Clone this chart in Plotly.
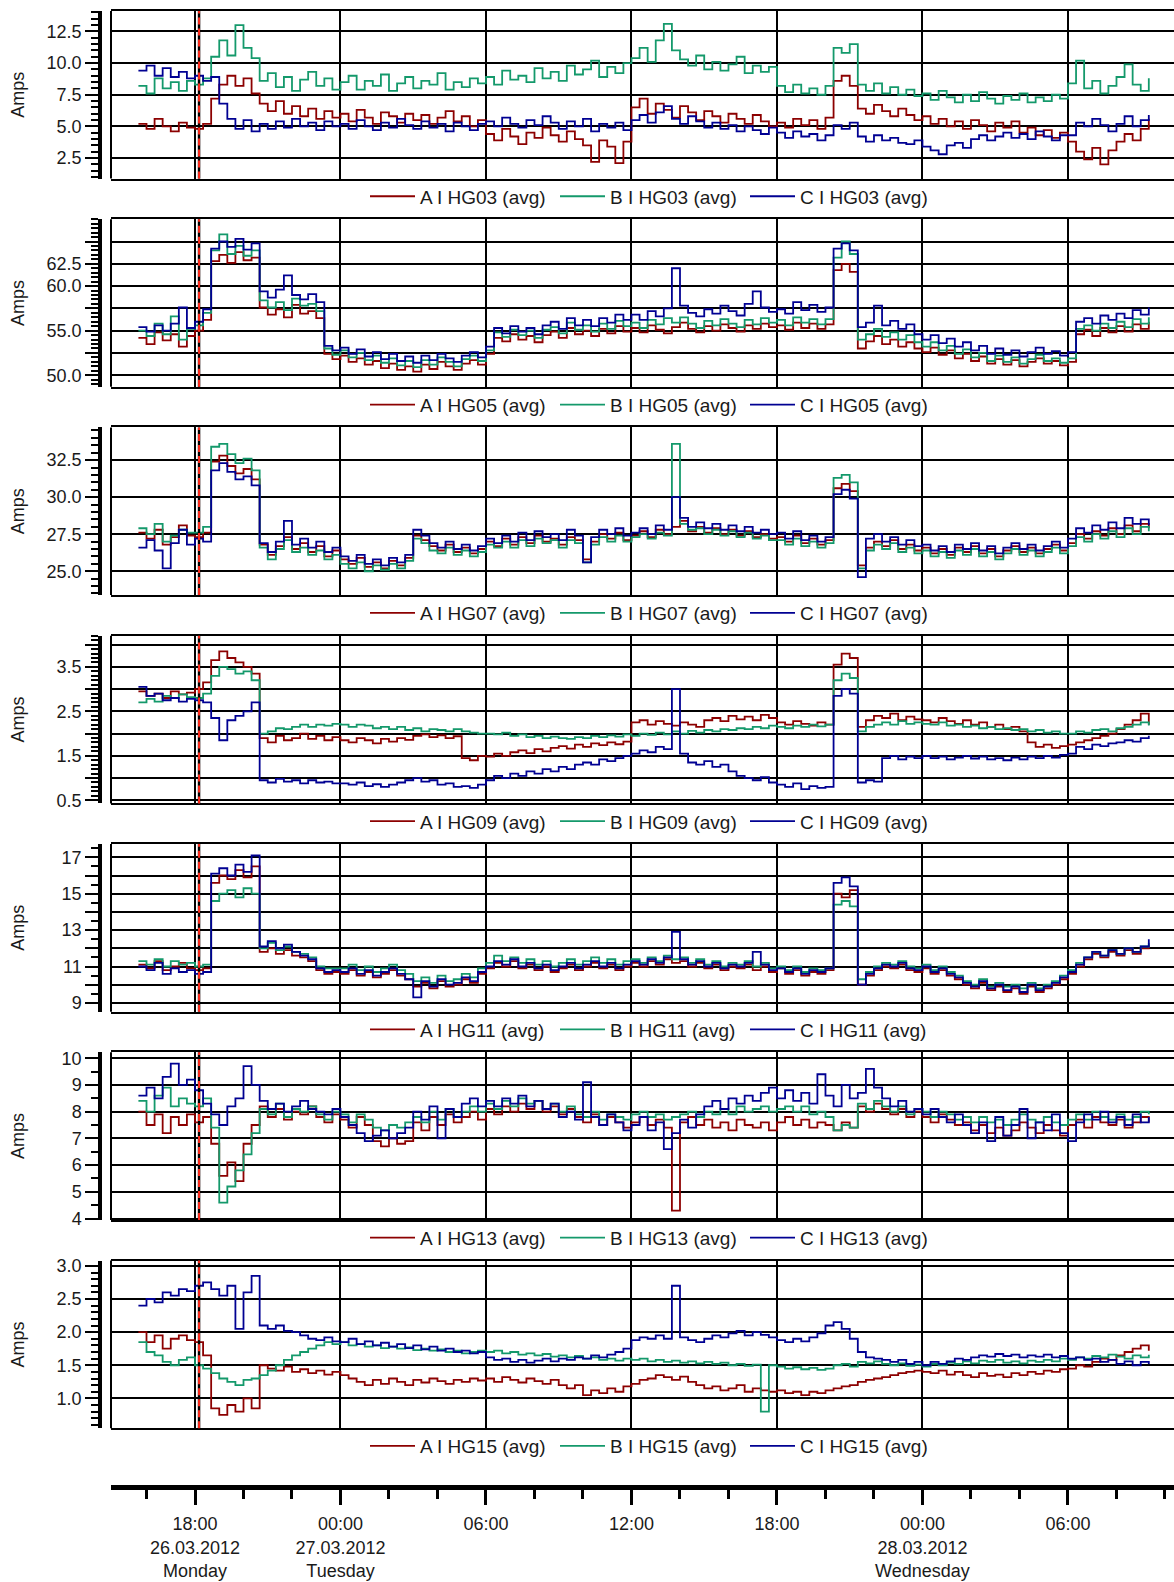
import pandas as pd
import plotly.graph_objects as go

# ---------------- data ----------------
times = pd.date_range("2012-03-26 15:40", periods=126, freq="20min")
event_time = "2012-03-26 18:10"

hg03_a = [5.2, 4.8, 5.6, 5.0, 4.6, 5.3, 4.9,
          4.8, 5.2, 7.2, 8.3, 9.0, 8.2, 8.8, 7.6, 6.8, 6.2, 7.0, 6.0, 6.6, 5.8, 6.4, 5.6, 6.2, 5.7,
          6.0, 5.4, 6.3, 5.7, 5.2, 6.1, 5.8, 5.3, 6.0, 5.5, 5.9, 5.2, 5.7, 6.2, 5.4, 5.8, 5.0, 5.5,
          4.4, 3.9, 4.8, 4.2, 3.6, 4.5, 4.1, 4.9, 4.3, 3.8, 4.6, 4.0, 3.5, 2.2, 3.9, 3.4, 2.1, 3.8,
          6.5, 7.2, 6.0, 6.8, 6.3, 5.7, 6.6, 6.1, 5.5, 6.2, 5.8, 5.3, 6.0, 5.6, 5.2, 5.9, 5.4, 5.0,
          5.3, 4.9, 5.6, 5.1, 5.5, 4.8, 5.7, 8.6, 9.0, 8.2, 6.4, 6.0, 6.7, 6.2, 5.8, 6.4, 5.9, 5.5,
          5.8, 5.2, 5.6, 5.0, 5.4, 4.8, 5.5, 5.1, 4.6, 5.3, 4.9, 5.4, 4.5, 4.9, 4.3, 4.7, 4.1, 4.5,
          3.8, 3.0, 2.4, 3.3, 2.0, 3.1, 3.8, 4.4, 3.9, 4.8, 5.6]
hg03_b = [8.2, 7.6, 8.8, 8.0, 8.5, 7.8, 8.6,
          8.3, 8.8, 10.5, 11.8, 10.6, 13.0, 11.2, 10.4, 8.6, 9.2, 8.1, 8.9, 7.8, 8.7, 9.3, 8.2, 8.8, 7.9,
          8.5, 9.0, 7.9, 8.6, 8.2, 9.1, 7.8, 8.4, 8.9, 8.0, 8.6, 8.3, 9.2, 7.9, 8.5, 8.1, 8.8, 8.4,
          8.9, 8.3, 9.4, 8.7, 9.0, 8.5, 9.6, 8.8, 9.3, 8.6, 9.8, 9.1, 9.5, 10.2, 8.9, 9.7, 9.2, 10.0,
          10.4, 11.2, 10.1, 11.8, 13.1, 11.0, 10.3, 9.8, 10.6, 9.5, 10.1, 9.4, 9.9, 10.5, 9.2, 9.8, 9.3, 9.7,
          8.2, 7.7, 8.3, 7.6, 8.0, 7.5, 8.2, 11.2, 10.8, 11.5, 8.3, 7.8, 8.4, 7.6, 8.1, 7.5, 7.9, 7.4,
          7.6, 7.1, 7.8, 7.3, 6.9, 7.5, 7.0, 7.7, 7.2, 6.8, 7.4, 7.1, 7.6, 6.9, 7.3, 7.0, 7.5, 7.2,
          8.4, 10.2, 8.0, 8.6, 7.6, 8.2, 8.9, 9.9, 8.3, 7.8, 8.8]
hg03_c = [9.4, 9.8, 9.0, 9.6, 8.9, 9.3, 8.8,
          9.0, 8.6, 8.9, 6.8, 5.6, 4.8, 5.5, 4.6, 5.2, 4.8, 5.4, 4.9, 5.6, 5.0, 5.3, 4.7, 5.4, 5.0,
          5.2, 4.8, 5.5, 5.0, 4.7, 5.3, 4.9, 5.6, 5.1, 4.8, 5.4, 4.9, 5.2, 4.6, 5.3, 5.0, 4.7, 5.2,
          5.4, 5.0, 5.7, 5.2, 4.9, 5.5, 5.1, 5.8, 5.3, 4.8, 5.4, 5.0, 5.6, 4.6, 5.2, 4.9, 5.3, 4.7,
          5.5, 5.9, 5.3, 6.1, 6.6, 5.6, 5.2, 5.8, 5.4, 4.9, 5.3, 4.8, 5.1, 4.6, 5.0, 4.7, 4.4, 4.9,
          4.5, 4.1, 4.6, 4.2, 4.4, 3.9, 4.3, 5.1, 4.8, 5.3, 4.2, 3.8, 4.3, 3.9, 4.1, 3.7, 3.6, 3.9,
          3.4, 3.1, 2.8, 3.5, 3.7, 3.3, 4.0, 4.3, 3.9, 4.2, 4.5, 4.1, 4.4, 4.0, 4.6, 4.2, 3.9, 4.3,
          4.3, 5.3, 5.0, 5.6, 5.1, 4.6, 5.2, 5.8, 5.0, 5.5, 5.9]

hg05_a = [54.2, 53.5, 54.8, 53.9, 54.6, 53.2, 54.4,
          55.0, 56.2, 62.8, 63.5, 62.6, 63.8, 62.9, 63.2, 57.6, 56.8, 57.4, 56.5, 57.9, 56.9, 57.2, 56.4, 52.4, 51.8,
          52.2, 51.5, 51.9, 51.2, 51.6, 50.8, 51.3, 50.6, 51.0, 50.4, 51.2, 50.7, 51.5, 51.0, 50.6, 51.3, 51.7, 51.2,
          52.4, 54.2, 53.8, 54.6, 54.0, 54.4, 53.7, 54.5, 54.9, 54.2, 55.3, 54.6, 55.0, 54.4, 55.2, 54.7, 55.5, 54.9,
          55.3, 54.8, 55.6, 55.1, 54.7, 55.4, 55.9, 55.2, 54.8, 55.5, 55.0, 55.7, 55.3, 54.9, 55.6, 55.2, 55.8, 55.4,
          55.6, 55.1, 55.9, 55.3, 55.8, 55.2, 55.7, 61.8, 62.5, 61.6, 53.0, 53.8, 54.4, 53.5, 54.0, 53.2, 53.7, 53.0,
          52.6, 53.1, 52.3, 52.8, 51.9, 52.4, 51.6, 52.1, 51.3, 51.8, 51.2, 51.7, 51.0, 51.5, 51.9, 51.3, 51.6, 51.1,
          51.5, 54.6, 55.1, 54.4, 55.3, 54.8, 55.5, 54.9, 55.7, 55.2, 56.0]
hg05_b = [55.0, 54.4, 55.8, 54.6, 56.6, 54.0, 55.2,
          55.6, 57.0, 64.0, 65.8, 63.6, 64.5, 63.4, 64.0, 58.4, 57.6, 58.2, 57.3, 58.6, 57.8, 58.0, 57.2, 53.0, 52.3,
          52.8, 52.0, 52.5, 51.7, 52.2, 51.4, 51.9, 51.1, 51.6, 50.9, 51.7, 51.2, 52.0, 51.5, 51.0, 51.8, 52.2, 51.6,
          52.8, 54.8, 54.3, 55.1, 54.5, 55.0, 54.2, 55.1, 55.4, 54.7, 55.9, 55.1, 55.6, 54.9, 55.8, 55.2, 56.1, 55.5,
          55.9, 55.3, 56.2, 55.7, 56.4, 55.9, 56.5, 55.8, 55.3, 56.1, 55.6, 56.3, 55.8, 55.4, 56.2, 55.7, 56.4, 55.9,
          56.2, 55.6, 56.5, 55.9, 56.3, 55.7, 56.3, 63.2, 65.0, 63.6, 54.0, 54.6, 55.2, 54.3, 54.8, 54.0, 54.5, 53.7,
          53.2, 53.7, 52.8, 53.3, 52.4, 52.9, 52.0, 52.5, 51.6, 52.2, 51.5, 52.0, 51.3, 51.8, 52.3, 51.6, 51.9, 51.4,
          51.9, 55.2, 55.6, 55.0, 55.8, 55.3, 56.0, 55.4, 56.3, 55.8, 56.5]
hg05_c = [55.4, 54.9, 55.6, 55.0, 55.8, 57.6, 55.3,
          56.0, 57.4, 64.2, 65.0, 64.4, 65.3, 64.1, 64.8, 59.4, 58.7, 59.6, 61.2, 59.0, 58.5, 59.1, 58.2, 53.3, 52.8,
          53.1, 52.4, 52.9, 52.1, 52.6, 51.8, 52.4, 51.6, 52.1, 51.4, 52.2, 51.7, 52.4, 51.9, 51.5, 52.2, 52.6, 52.0,
          53.2, 55.3, 54.7, 55.5, 54.9, 55.3, 54.6, 55.6, 56.0, 55.2, 56.4, 55.6, 56.2, 55.5, 56.4, 55.9, 56.8, 56.2,
          56.8, 56.2, 57.2, 56.6, 57.5, 62.0, 57.8, 57.0, 56.6, 57.4, 56.9, 57.8, 57.2, 56.7, 58.0, 59.4, 57.6, 57.1,
          57.4, 56.9, 58.2, 57.3, 57.9, 57.1, 57.6, 64.2, 64.8, 64.0, 55.4, 55.9, 57.8, 55.6, 56.1, 55.2, 55.7, 54.6,
          54.0, 54.5, 53.6, 54.1, 53.2, 53.7, 52.8, 53.3, 52.4, 53.0, 52.3, 52.8, 52.1, 52.6, 53.1, 52.4, 52.7, 52.2,
          52.6, 56.0, 56.4, 55.8, 56.7, 56.2, 56.9, 56.4, 57.3, 56.8, 57.6]

hg07_a = [27.6, 27.2, 27.8, 26.8, 27.3, 28.1, 27.4,
          27.3, 27.6, 32.4, 32.8, 32.1, 31.6, 31.9, 31.2, 26.8, 26.1, 26.7, 27.3, 26.5, 26.9, 26.3, 26.7, 26.0, 26.4,
          25.8, 25.5, 25.9, 25.3, 25.6, 25.2, 25.7, 25.4, 25.9, 27.4, 27.1, 26.7, 26.4, 26.8, 26.3, 26.6, 26.2, 26.5,
          27.0, 26.7, 27.2, 26.8, 27.3, 26.9, 27.4, 27.0, 27.2, 26.8, 27.3, 27.1, 25.8, 27.0, 27.5, 27.2, 27.6, 27.1,
          27.4, 27.7, 27.3, 27.8, 27.5, 28.0, 28.4, 27.7, 28.0, 27.6, 27.9, 27.5, 27.8, 27.4, 27.7, 27.3, 27.5, 27.2,
          27.3, 27.0, 27.4, 26.9, 27.2, 26.8, 27.1, 30.6, 30.9, 30.4, 25.4, 26.6, 27.0, 26.7, 27.1, 26.5, 26.8, 26.4,
          26.6, 26.2, 26.5, 26.1, 26.6, 26.3, 26.7, 26.2, 26.5, 26.0, 26.4, 26.7, 26.3, 26.6, 26.2, 26.5, 26.8, 26.4,
          26.9, 27.5, 27.2, 27.7, 27.4, 27.9, 27.5, 28.1, 27.7, 28.2, 27.9]
hg07_b = [27.9, 27.5, 28.2, 27.0, 27.4, 27.8, 27.6,
          27.6, 28.0, 33.4, 33.6, 32.9, 32.3, 32.6, 31.8, 26.6, 25.8, 26.5, 27.1, 26.3, 26.6, 26.1, 26.4, 25.8, 26.1,
          25.5, 25.2, 25.6, 25.0, 25.4, 25.1, 25.5, 25.2, 25.7, 27.2, 26.9, 26.4, 26.2, 26.6, 26.1, 26.4, 26.0, 26.3,
          26.8, 26.6, 27.0, 26.6, 27.1, 26.7, 27.2, 26.9, 27.1, 26.6, 27.1, 26.9, 25.6, 26.8, 27.3, 27.0, 27.4, 27.0,
          27.3, 27.5, 27.2, 27.6, 27.4, 33.6, 28.2, 27.8, 27.9, 27.5, 27.8, 27.4, 27.7, 27.3, 27.6, 27.2, 27.4, 27.1,
          27.1, 26.8, 27.2, 26.7, 27.0, 26.6, 26.9, 31.3, 31.5, 31.0, 25.2, 26.4, 26.8, 26.5, 26.9, 26.3, 26.6, 26.2,
          26.4, 26.0, 26.3, 25.9, 26.4, 26.1, 26.5, 26.0, 26.3, 25.8, 26.2, 26.5, 26.1, 26.4, 26.0, 26.3, 26.6, 26.2,
          26.7, 27.3, 27.0, 27.5, 27.2, 27.7, 27.3, 27.9, 27.5, 28.0, 27.7]
hg07_c = [26.6, 27.1, 26.4, 25.2, 26.9, 27.8, 26.8,
          27.2, 27.0, 31.8, 32.3, 31.7, 31.2, 31.4, 30.8, 26.9, 26.3, 27.0, 28.4, 26.8, 27.2, 26.6, 27.0, 26.3, 26.6,
          26.0, 25.7, 26.1, 25.5, 25.8, 25.4, 25.9, 25.6, 26.1, 27.8, 27.4, 26.9, 26.6, 27.0, 26.5, 26.8, 26.4, 26.7,
          27.2, 26.9, 27.4, 27.0, 27.6, 27.1, 27.7, 27.3, 27.5, 27.1, 27.8, 27.4, 25.6, 27.3, 27.8, 27.5, 27.9, 27.4,
          27.6, 27.9, 27.5, 28.1, 27.8, 30.0, 28.6, 28.0, 28.3, 27.9, 28.2, 27.8, 28.1, 27.7, 28.0, 27.6, 27.8, 27.5,
          27.6, 27.2, 27.7, 27.1, 27.4, 27.0, 27.3, 30.2, 30.5, 29.9, 24.6, 27.2, 27.5, 27.0, 27.3, 26.8, 27.1, 26.7,
          26.8, 26.4, 26.7, 26.3, 26.8, 26.5, 26.9, 26.4, 26.7, 26.2, 26.6, 26.9, 26.5, 26.8, 26.4, 26.7, 27.0, 26.6,
          27.2, 27.9, 27.6, 28.1, 27.8, 28.3, 27.9, 28.6, 28.2, 28.5, 28.1]

hg09_a = [2.95, 2.85, 2.9, 2.8, 2.95, 2.88, 2.92,
          3.0, 3.15, 3.65, 3.85, 3.7, 3.6, 3.5, 3.35, 1.9, 1.8, 1.95, 1.85, 1.9, 2.0, 1.88, 1.95, 1.85, 1.92,
          1.85, 1.8, 1.9, 1.85, 1.78, 1.88, 1.82, 1.9, 1.86, 1.95, 1.98, 1.92, 1.96, 1.9, 1.94, 1.45, 1.4, 1.5,
          1.48, 1.55, 1.5, 1.58, 1.62, 1.56, 1.65, 1.6, 1.68, 1.72, 1.66, 1.75, 1.7, 1.78, 1.74, 1.8, 1.76, 1.82,
          2.25, 2.3, 2.2, 2.28, 2.22, 2.18, 2.25, 2.2, 2.15, 2.3, 2.35, 2.28, 2.4, 2.32, 2.38, 2.3, 2.42, 2.35,
          2.25, 2.2, 2.28, 2.22, 2.18, 2.25, 2.2, 3.55, 3.8, 3.7, 2.15, 2.3, 2.4, 2.35, 2.45, 2.3, 2.38, 2.32,
          2.3, 2.25, 2.35, 2.28, 2.22, 2.3, 2.2, 2.25, 2.15, 2.2, 2.1, 2.15, 2.05, 1.8, 1.7, 1.75, 1.68, 1.72,
          1.75, 1.8, 1.85, 1.9, 1.95, 2.0, 2.1, 2.2, 2.3, 2.45, 2.2]
hg09_b = [2.7, 2.78, 2.72, 2.85, 2.8, 2.88, 2.82,
          2.8, 2.9, 3.3, 3.5, 3.45, 3.35, 3.4, 3.2, 2.0, 2.05, 2.12, 2.1, 2.15, 2.2, 2.15, 2.2, 2.18, 2.22,
          2.2, 2.15, 2.2, 2.18, 2.12, 2.15, 2.1, 2.15, 2.08, 2.12, 2.05, 2.1, 2.08, 2.05, 2.1, 2.05, 2.02, 2.0,
          2.0, 1.98, 2.02, 1.95, 1.98, 1.92, 1.95, 1.9, 1.93, 1.9, 1.88, 1.92, 1.9, 1.95, 1.92, 1.96, 1.93, 1.98,
          1.95, 2.0, 1.97, 2.02, 1.98, 2.05, 2.0, 2.06, 2.02, 2.08, 2.05, 2.1, 2.08, 2.12, 2.1, 2.15, 2.12, 2.18,
          2.15, 2.12, 2.18, 2.15, 2.2, 2.16, 2.2, 3.2, 3.35, 3.25, 2.05, 2.15, 2.2, 2.25, 2.2, 2.28, 2.22, 2.25,
          2.22, 2.2, 2.25, 2.18, 2.2, 2.15, 2.18, 2.12, 2.15, 2.1, 2.12, 2.08, 2.1, 2.05, 2.08, 2.02, 2.05, 2.0,
          2.0, 2.05, 2.02, 2.08, 2.1, 2.05, 2.12, 2.15, 2.2, 2.25, 2.18]
hg09_c = [3.05, 2.85, 2.9, 2.75, 2.8, 2.72, 2.78,
          2.75, 2.7, 2.35, 1.85, 2.3, 2.4, 2.5, 2.7, 0.95, 0.9, 0.98, 0.92, 0.95, 0.88, 0.95, 0.9, 0.92, 0.88,
          0.88, 0.85, 0.9, 0.82, 0.86, 0.8, 0.85, 0.9, 0.95, 1.0, 0.92, 0.95, 0.85, 0.88, 0.8, 0.82, 0.78, 0.85,
          0.95, 1.05, 1.0, 1.1, 1.05, 1.15, 1.1, 1.2, 1.15, 1.25, 1.2, 1.3, 1.35, 1.3, 1.42, 1.38, 1.45, 1.5,
          1.55, 1.62, 1.58, 1.7, 1.65, 3.0, 1.55, 1.35, 1.3, 1.38, 1.25, 1.3, 1.15, 1.05, 1.0, 0.95, 1.02, 0.9,
          0.85, 0.8, 0.88, 0.75, 0.82, 0.78, 0.8, 2.85, 3.0, 2.9, 0.9, 0.95, 0.92, 1.45, 1.5, 1.42, 1.48, 1.45,
          1.5, 1.45, 1.48, 1.42, 1.46, 1.5, 1.44, 1.48, 1.42, 1.45, 1.4, 1.46, 1.42, 1.48, 1.45, 1.5, 1.46, 1.52,
          1.55, 1.7, 1.65, 1.75, 1.72, 1.78, 1.8, 1.85, 1.82, 1.9, 1.95]

hg11_a = [11.1, 10.9, 11.3, 10.8, 11.0, 11.2, 10.9,
          10.8, 10.9, 15.6, 16.0, 15.8, 16.3, 15.9, 16.5, 11.8, 12.0, 11.7, 11.9, 11.6, 11.5, 11.3, 10.8, 10.6, 10.7,
          10.6, 10.8, 10.5, 10.7, 10.4, 10.6, 10.8, 10.5, 10.3, 9.9, 10.1, 9.8, 10.2, 9.9, 10.0, 10.3, 10.1, 10.6,
          10.9, 11.2, 11.0, 11.3, 10.9, 11.1, 10.8, 11.0, 10.7, 10.9, 11.1, 10.8, 11.0, 11.2, 10.9, 11.1, 10.8, 11.0,
          11.2, 11.0, 11.3, 11.1, 11.4, 11.2, 11.3, 11.0, 11.2, 10.9, 11.1, 10.8, 11.0, 10.9, 11.1, 10.8, 11.0, 10.7,
          10.9, 10.6, 10.8, 10.5, 10.7, 10.6, 10.8, 15.0, 14.8, 15.2, 10.0, 10.5, 10.8, 11.0, 10.9, 11.1, 10.8, 10.7,
          10.9, 10.6, 10.8, 10.5, 10.3, 10.0, 9.8, 10.1, 9.7, 9.9, 9.6, 9.8, 9.5, 9.9, 9.6, 9.8, 10.0, 10.3,
          10.6, 11.0, 11.4, 11.7, 11.5, 11.8, 11.6, 11.9, 11.7, 12.0, 12.2]
hg11_b = [11.3, 11.1, 11.4, 11.0, 11.3, 11.1, 11.2,
          11.0, 11.1, 14.6, 15.0, 15.2, 14.8, 15.3, 15.0, 12.0, 12.3, 11.9, 12.1, 11.8, 11.7, 11.5, 11.0, 10.9, 10.9,
          10.9, 11.1, 10.8, 11.0, 10.7, 10.9, 11.1, 10.8, 10.6, 10.2, 10.4, 10.1, 10.5, 10.2, 10.3, 10.6, 10.4, 10.9,
          11.2, 11.6, 11.3, 11.5, 11.2, 11.4, 11.1, 11.3, 11.0, 11.2, 11.4, 11.1, 11.3, 11.5, 11.2, 11.4, 11.1, 11.3,
          11.4, 11.2, 11.5, 11.3, 11.6, 11.4, 11.5, 11.2, 11.4, 11.1, 11.3, 11.0, 11.2, 11.1, 11.3, 11.0, 11.2, 10.9,
          11.0, 10.8, 11.0, 10.7, 10.9, 10.8, 10.9, 14.4, 14.6, 14.3, 10.3, 10.7, 11.0, 11.2, 11.1, 11.3, 11.0, 10.9,
          11.1, 10.8, 11.0, 10.7, 10.5, 10.2, 10.0, 10.3, 9.9, 10.1, 9.9, 10.0, 9.8, 10.1, 9.8, 10.0, 10.2, 10.5,
          10.8, 11.2, 11.5, 11.8, 11.6, 11.9, 11.7, 12.0, 11.8, 12.1, 12.3]
hg11_c = [11.0, 10.8, 11.2, 10.6, 10.9, 10.7, 10.8,
          10.6, 10.7, 16.1, 16.4, 16.0, 16.6, 16.2, 17.1, 12.1, 12.4, 12.0, 12.2, 11.8, 11.6, 11.4, 10.9, 10.7, 10.8,
          10.7, 10.9, 10.6, 10.8, 10.5, 10.7, 10.9, 10.6, 10.3, 9.3, 10.2, 9.9, 10.3, 10.0, 10.1, 10.4, 10.2, 10.7,
          11.0, 11.3, 11.1, 11.4, 11.0, 11.2, 10.9, 11.1, 10.8, 11.0, 11.2, 10.9, 11.1, 11.3, 11.0, 11.2, 10.9, 11.1,
          11.3, 11.1, 11.4, 11.2, 11.5, 12.9, 11.4, 11.1, 11.3, 11.0, 11.2, 10.9, 11.1, 11.0, 11.2, 11.8, 11.1, 10.8,
          10.9, 10.7, 10.9, 10.6, 10.8, 10.7, 10.9, 15.6, 15.9, 15.4, 10.0, 10.6, 10.9, 11.1, 11.0, 11.2, 10.9, 10.8,
          11.0, 10.7, 10.9, 10.6, 10.4, 10.1, 9.9, 10.2, 9.8, 10.0, 9.7, 9.9, 9.6, 10.0, 9.7, 9.9, 10.1, 10.4,
          10.7, 11.1, 11.5, 11.8, 11.6, 11.9, 11.7, 12.0, 11.8, 12.1, 12.5]

hg13_a = [8.0, 7.5, 7.9, 7.2, 7.8, 7.5, 7.9,
          7.6, 7.8, 6.8, 5.6, 6.1, 5.4, 6.8, 7.5, 8.2, 7.8, 8.1, 7.7, 8.0, 7.9, 8.2, 7.8, 7.6, 7.9,
          7.7, 7.4, 7.8, 7.5, 6.9, 6.7, 7.0, 6.8, 6.9, 7.6, 7.3, 7.8, 7.5, 7.9, 7.6, 7.8, 8.0, 7.7,
          8.1, 7.9, 8.2, 8.0, 8.3, 8.1, 8.4, 8.0, 8.2, 7.9, 8.1, 7.8, 7.6, 7.9, 7.5, 7.8, 7.6, 7.4,
          7.6, 7.8, 7.5, 7.7, 7.4, 4.3, 7.6, 7.8, 7.5, 7.7, 7.4, 7.6, 7.3, 7.7, 7.5, 7.4, 7.6, 7.3,
          7.6, 7.8, 7.5, 7.7, 7.4, 7.6, 7.5, 7.3, 7.6, 7.4, 8.2, 8.0, 8.3, 8.1, 7.9, 8.1, 7.8, 8.0,
          7.8, 7.6, 7.9, 7.7, 7.5, 7.6, 7.3, 7.5, 7.2, 7.4, 7.1, 7.3, 7.6, 7.4, 7.2, 7.5, 7.3, 7.1,
          7.5, 7.7, 7.4, 7.8, 7.6, 7.5, 7.7, 7.4, 7.6, 7.8, 7.6]
hg13_b = [8.4, 8.0, 8.6, 8.9, 8.2, 8.5, 8.3,
          8.2, 8.5, 7.4, 4.6, 5.2, 5.8, 6.4, 7.2, 8.1, 7.9, 8.3, 7.8, 8.1, 8.0, 8.2, 7.9, 7.7, 8.0,
          7.9, 7.6, 7.9, 7.7, 7.4, 7.3, 7.5, 7.4, 7.6, 7.8, 7.6, 8.0, 7.7, 8.1, 7.8, 8.0, 8.2, 8.0,
          8.3, 8.1, 8.4, 8.2, 8.5, 8.3, 8.4, 8.1, 8.3, 8.0, 8.2, 7.9, 7.8, 8.0, 7.7, 7.9, 7.8, 7.7,
          7.9, 8.0, 7.8, 7.9, 7.7, 7.8, 7.9, 8.0, 7.8, 8.0, 7.9, 8.1, 7.9, 8.2, 8.0, 8.1, 8.2, 8.0,
          8.1, 8.2, 8.0, 8.2, 7.9, 8.0, 7.8, 7.3, 7.5, 7.4, 8.3, 8.1, 8.4, 8.2, 8.0, 8.2, 7.9, 8.1,
          8.0, 7.8, 8.0, 7.9, 7.7, 7.8, 7.6, 7.8, 7.6, 7.7, 7.5, 7.7, 7.9, 7.7, 7.6, 7.8, 7.6, 7.5,
          7.7, 7.9, 7.7, 8.0, 7.8, 7.7, 7.9, 7.7, 7.8, 8.0, 7.9]
hg13_c = [8.6, 8.9, 8.5, 9.3, 9.8, 9.0, 9.2,
          8.8, 8.3, 7.9, 7.5, 8.2, 8.5, 9.7, 9.0, 8.4, 8.1, 8.3, 8.0, 8.2, 8.4, 8.1, 8.0, 7.9, 8.1,
          7.8, 7.5, 7.2, 6.9, 7.1, 7.3, 7.0, 7.2, 7.4, 8.0, 7.7, 8.2, 7.0, 8.1, 7.8, 8.3, 8.5, 8.2,
          8.4, 8.2, 8.5, 8.3, 8.6, 8.2, 8.4, 8.1, 8.3, 7.8, 8.0, 7.7, 9.1, 7.8, 7.5, 7.9, 7.6, 7.3,
          7.5, 7.8, 7.3, 7.6, 6.6, 7.2, 7.7, 7.4, 7.9, 8.2, 8.4, 8.1, 8.5, 8.3, 8.6, 8.4, 8.7, 8.9,
          8.5, 8.8, 8.4, 8.7, 8.3, 9.4, 8.6, 8.2, 9.0, 8.5, 8.7, 9.6, 8.9, 8.5, 8.2, 8.4, 8.0, 8.1,
          7.9, 8.1, 7.8, 7.6, 7.9, 7.5, 7.2, 7.6, 6.9, 7.8, 7.1, 7.5, 8.1, 7.0, 7.6, 7.3, 7.9, 7.2,
          6.9, 7.6, 7.9, 7.7, 8.0, 7.6, 7.8, 7.5, 7.9, 7.6, 7.8]

hg15_a = [2.0, 1.85, 1.95, 1.75, 1.9, 1.95, 1.88,
          1.85, 1.65, 0.85, 0.75, 0.9, 0.8, 1.0, 0.85, 1.5, 1.45, 1.42, 1.48, 1.4, 1.44, 1.38, 1.42, 1.36, 1.4,
          1.35, 1.3, 1.25, 1.2, 1.28, 1.22, 1.3, 1.25, 1.2, 1.28, 1.24, 1.3, 1.26, 1.22, 1.28, 1.25, 1.3, 1.27,
          1.3, 1.25, 1.32, 1.28, 1.24, 1.3, 1.26, 1.22, 1.28, 1.2, 1.15, 1.2, 1.05, 1.12, 1.08, 1.15, 1.1, 1.18,
          1.22, 1.28, 1.3, 1.35, 1.32, 1.28, 1.33, 1.25, 1.2, 1.15, 1.18, 1.12, 1.15, 1.2, 1.1, 1.15, 1.12, 1.1,
          1.12, 1.08, 1.1, 1.05, 1.1, 1.08, 1.12, 1.15, 1.18, 1.2, 1.25, 1.28, 1.3, 1.32, 1.35, 1.38, 1.4, 1.42,
          1.4, 1.38, 1.42, 1.36, 1.4, 1.35, 1.32, 1.38, 1.34, 1.36, 1.32, 1.38, 1.35, 1.4, 1.37, 1.42, 1.4, 1.44,
          1.45, 1.5, 1.48, 1.55, 1.6, 1.58, 1.65, 1.7, 1.75, 1.8, 1.72]
hg15_b = [1.85, 1.7, 1.65, 1.55, 1.5, 1.58, 1.62,
          1.5, 1.45, 1.38, 1.3, 1.25, 1.2, 1.28, 1.3, 1.35, 1.42, 1.5, 1.58, 1.65, 1.7, 1.75, 1.8, 1.85, 1.82,
          1.85, 1.8, 1.82, 1.78, 1.8, 1.76, 1.78, 1.75, 1.77, 1.73, 1.75, 1.72, 1.74, 1.7, 1.72, 1.68, 1.7, 1.72,
          1.7, 1.72, 1.68, 1.7, 1.66, 1.68, 1.65, 1.67, 1.63, 1.65, 1.62, 1.64, 1.6, 1.62, 1.58, 1.6, 1.57, 1.6,
          1.58, 1.6, 1.56, 1.58, 1.55, 1.57, 1.54, 1.56, 1.53, 1.55, 1.52, 1.54, 1.5, 1.52, 1.49, 1.51, 0.8, 1.5,
          1.48, 1.45, 1.47, 1.44, 1.46, 1.43, 1.45, 1.5, 1.52, 1.48, 1.55, 1.53, 1.56, 1.52, 1.5, 1.53, 1.49, 1.51,
          1.48, 1.52, 1.5, 1.54, 1.52, 1.56, 1.53, 1.57, 1.55, 1.58, 1.54, 1.56, 1.53, 1.57, 1.55, 1.58, 1.56, 1.6,
          1.58, 1.62, 1.6, 1.64, 1.62, 1.66, 1.63, 1.6, 1.65, 1.62, 1.66]
hg15_c = [2.4, 2.5, 2.45, 2.6, 2.55, 2.65, 2.62,
          2.7, 2.75, 2.65, 2.55, 2.7, 2.05, 2.6, 2.85, 2.1, 2.05, 2.1, 2.02, 2.0, 1.95, 1.9, 1.88, 1.92, 1.86,
          1.85, 1.9, 1.82, 1.86, 1.8, 1.84, 1.78, 1.82, 1.76, 1.8, 1.74, 1.78, 1.72, 1.75, 1.7, 1.72, 1.68, 1.7,
          1.62, 1.58, 1.6, 1.55, 1.58, 1.54, 1.57, 1.6, 1.56, 1.6, 1.58, 1.62, 1.6, 1.65, 1.62, 1.66, 1.7, 1.75,
          1.88, 1.92, 1.9, 1.95, 1.9, 2.7, 1.92, 1.88, 1.85, 1.9, 1.95, 1.92, 1.98, 2.02, 1.95, 2.0, 1.96, 1.92,
          1.88, 1.85, 1.9, 1.86, 1.92, 1.98, 2.1, 2.15, 2.05, 1.9, 1.7, 1.62, 1.6, 1.58, 1.55, 1.58, 1.52, 1.55,
          1.5, 1.55, 1.52, 1.56, 1.6, 1.58, 1.62, 1.65, 1.63, 1.67, 1.64, 1.66, 1.62, 1.65, 1.63, 1.66, 1.62, 1.64,
          1.6, 1.62, 1.58, 1.6, 1.55, 1.58, 1.52, 1.56, 1.5, 1.55, 1.52]

panel_names = ["HG03", "HG05", "HG07", "HG09", "HG11", "HG13", "HG15"]
panel_series = [(hg03_a, hg03_b, hg03_c), (hg05_a, hg05_b, hg05_c), (hg07_a, hg07_b, hg07_c),
                (hg09_a, hg09_b, hg09_c), (hg11_a, hg11_b, hg11_c), (hg13_a, hg13_b, hg13_c),
                (hg15_a, hg15_b, hg15_c)]
phase_names = ["A", "B", "C"]

y_ranges = [[0.88, 14.12], [48.7, 67.5], [23.39, 34.7], [0.43, 4.2], [8.52, 17.73], [3.95, 10.22], [0.55, 3.08]]
y_tickvals = [[2.5, 5, 7.5, 10, 12.5],
              [50, 52.5, 55, 57.5, 60, 62.5, 65],
              [25, 27.5, 30, 32.5],
              [0.5, 1, 1.5, 2, 2.5, 3, 3.5, 4],
              [9, 10, 11, 12, 13, 14, 15, 16, 17],
              [4, 5, 6, 7, 8, 9, 10],
              [1.0, 1.5, 2.0, 2.5, 3.0]]
y_ticktext = [["2.5", "5.0", "7.5", "10.0", "12.5"],
              ["50.0", "", "55.0", "", "60.0", "62.5", ""],
              ["25.0", "27.5", "30.0", "32.5"],
              ["0.5", "", "1.5", "", "2.5", "", "3.5", ""],
              ["9", "", "11", "", "13", "", "15", "", "17"],
              ["4", "5", "6", "7", "8", "9", "10"],
              ["1.0", "1.5", "2.0", "2.5", "3.0"]]
y_minor = [0.5, 0.5, 0.5, 0.1, 0.5, 0.5, 0.1]

x_range = ["2012-03-26 14:32:10", "2012-03-28 10:22:20"]
bottom_tickvals = ["2012-03-26 18:00", "2012-03-27 00:00", "2012-03-27 06:00", "2012-03-27 12:00",
                   "2012-03-27 18:00", "2012-03-28 00:00", "2012-03-28 06:00"]
bottom_ticktext = ["18:00<br>26.03.2012<br>Monday", "00:00<br>27.03.2012<br>Tuesday", "06:00", "12:00",
                   "18:00", "00:00<br>28.03.2012<br>Wednesday", "06:00"]

# ---------------- layout helpers ----------------
W, H = 1174, 1582
colors = ["#8c0000", "#14996b", "#000092"]
FONT = "Liberation Sans, Arial, sans-serif"
x_left = 111 / W

fig = go.Figure()
layout = dict(width=W, height=H, margin=dict(l=0, r=0, t=0, b=0),
              paper_bgcolor="white", plot_bgcolor="white",
              font=dict(family=FONT, size=18, color="#1a1a1a"),
              shapes=[], annotations=[])

for k in range(7):
    n = k + 1
    sfx = "" if n == 1 else str(n)
    top = 7 + 210 * k
    bot = 176 + 210 * k
    leg = "legend" if n == 1 else f"legend{n}"
    for j in range(3):
        fig.add_trace(go.Scatter(
            x=times, y=panel_series[k][j], mode="lines",
            line=dict(color=colors[j], width=1.8, shape="hv"),
            name=f"{phase_names[j]} I {panel_names[k]} (avg)",
            xaxis=f"x{sfx}", yaxis=f"y{sfx}", legend=leg))
    layout[f"xaxis{sfx}"] = dict(
        domain=[x_left, 1], anchor=f"y{sfx}", range=x_range, type="date",
        showgrid=True, gridcolor="black", gridwidth=2,
        tick0="2012-03-26 00:00", dtick=6 * 3600 * 1000,
        showticklabels=False, ticks="", zeroline=False,
        showline=True, mirror=True, linecolor="black", linewidth=2)
    layout[f"yaxis{sfx}"] = dict(
        domain=[1 - bot / H, 1 - top / H], anchor="free", position=100 / W,
        range=y_ranges[k], tickmode="array", tickvals=y_tickvals[k], ticktext=y_ticktext[k],
        showgrid=True, gridcolor="black", gridwidth=2, zeroline=False,
        showline=True, linecolor="black", linewidth=3.5,
        ticks="outside", ticklen=13, tickwidth=2, tickcolor="black",
        tickfont=dict(size=18, family=FONT, color="#1a1a1a"),
        minor=dict(dtick=y_minor[k], tick0=0, ticks="outside", ticklen=7, tickwidth=1.5,
                   tickcolor="black", showgrid=False))
    layout[leg] = dict(orientation="h", x=650 / W, xanchor="center",
                       y=1 - (194 + 210 * k) / H, yanchor="middle",
                       font=dict(size=19, family=FONT, color="#1a1a1a"),
                       itemwidth=45, entrywidth=130, entrywidthmode="pixels",
                       bgcolor="rgba(0,0,0,0)", borderwidth=0)
    # frame left border
    layout["shapes"].append(dict(type="line", xref="paper", yref=f"y{sfx} domain",
                                 x0=x_left, x1=x_left, y0=0, y1=1,
                                 line=dict(color="black", width=2)))
    # event marker
    layout["shapes"].append(dict(type="line", xref=f"x{sfx}", yref=f"y{sfx} domain",
                                 x0=event_time, x1=event_time, y0=0, y1=1,
                                 line=dict(color="black", width=2.5)))
    layout["shapes"].append(dict(type="line", xref=f"x{sfx}", yref=f"y{sfx} domain",
                                 x0=event_time, x1=event_time, y0=0, y1=1,
                                 line=dict(color="#ff2a1a", width=2, dash="7px,4px")))
    layout["annotations"].append(dict(text="Amps", xref="paper", yref="paper",
                                      x=18 / W, y=1 - (top + bot) / 2 / H, textangle=-90,
                                      showarrow=False, xanchor="center", yanchor="middle",
                                      font=dict(size=18, family=FONT, color="#1a1a1a")))

# bottom time axis
fig.add_trace(go.Scatter(x=[times[0]], y=[None], mode="lines", xaxis="x8", yaxis="y8",
                         showlegend=False, hoverinfo="skip"))
layout["xaxis8"] = dict(domain=[x_left, 1], anchor="y8", range=x_range, type="date",
                        showgrid=False, zeroline=False,
                        showline=True, linecolor="black", linewidth=5,
                        tickmode="array", tickvals=bottom_tickvals, ticktext=bottom_ticktext,
                        ticks="outside", ticklen=15, tickwidth=2.5, tickcolor="black",
                        ticklabelstandoff=4,
                        tickfont=dict(size=18, family=FONT, color="#1a1a1a"),
                        minor=dict(dtick=2 * 3600 * 1000, tick0="2012-03-26 00:00",
                                   ticks="outside", ticklen=9, tickwidth=2.5, tickcolor="black",
                                   showgrid=False))
layout["yaxis8"] = dict(domain=[1 - 1493 / H, 1 - 1488 / H], anchor="x8", visible=False, range=[0, 1])

fig.update_layout(**layout)
fig.write_html("out.html")
